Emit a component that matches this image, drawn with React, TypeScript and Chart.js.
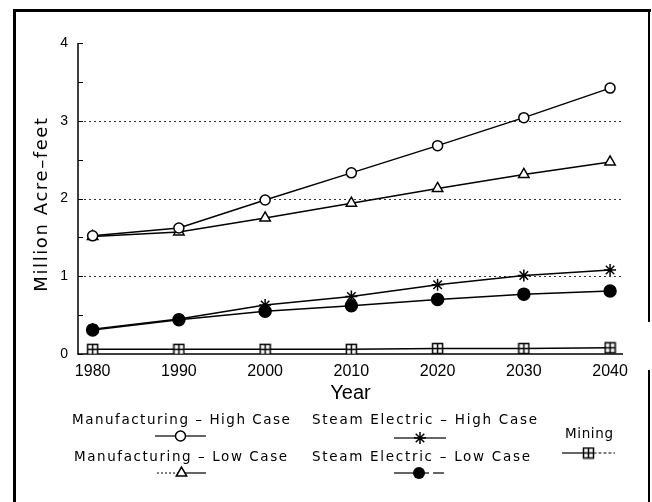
import React, { useEffect, useRef } from 'react';
import { Chart, registerables } from 'chart.js';

Chart.register(...registerables);

const years = [1980, 1990, 2000, 2010, 2020, 2030, 2040];
const mfgHigh = [1.52, 1.62, 1.98, 2.33, 2.68, 3.04, 3.42];
const mfgLow = [1.51, 1.57, 1.75, 1.94, 2.13, 2.31, 2.47];
const steamHigh = [0.32, 0.45, 0.63, 0.74, 0.89, 1.01, 1.08];
const steamLow = [0.31, 0.44, 0.55, 0.62, 0.7, 0.77, 0.81];
const mining = [0.06, 0.06, 0.06, 0.06, 0.07, 0.07, 0.08];
const yTickValues = [0, 0.5, 1, 1.5, 2, 2.5, 3, 3.5, 4];
const gridValues = [1, 2, 3];
const xTitle = 'Year';
const yTitle = 'Million Acre–feet';
const legendLabels = [
  'Manufacturing – High Case',
  'Manufacturing – Low Case',
  'Steam Electric – High Case',
  'Steam Electric – Low Case',
  'Mining',
];

function makeMiningPoint(): HTMLCanvasElement {
  const c = document.createElement('canvas');
  c.width = 13;
  c.height = 13;
  const g = c.getContext('2d')!;
  g.fillStyle = '#fff';
  g.fillRect(1.5, 1.5, 10, 10);
  g.strokeStyle = '#000';
  g.lineWidth = 1.5;
  g.strokeRect(1.5, 1.5, 10, 10);
  g.beginPath();
  g.moveTo(6.5, 1.5);
  g.lineTo(6.5, 11.5);
  g.moveTo(1.5, 6.5);
  g.lineTo(11.5, 6.5);
  g.stroke();
  return c;
}

function drawMarker(ctx: CanvasRenderingContext2D, kind: string, x: number, y: number, img?: HTMLCanvasElement) {
  ctx.save();
  ctx.strokeStyle = '#000';
  ctx.fillStyle = '#fff';
  ctx.lineWidth = 1.5;
  if (kind === 'circle') {
    ctx.beginPath();
    ctx.arc(x, y, 5, 0, Math.PI * 2);
    ctx.fill();
    ctx.stroke();
  } else if (kind === 'triangle') {
    const r = 6;
    ctx.beginPath();
    ctx.moveTo(x, y - r);
    ctx.lineTo(x + r * 0.866, y + r * 0.5);
    ctx.lineTo(x - r * 0.866, y + r * 0.5);
    ctx.closePath();
    ctx.fill();
    ctx.stroke();
  } else if (kind === 'star') {
    const r = 6;
    ctx.beginPath();
    for (let i = 0; i < 4; i++) {
      const a = (i * Math.PI) / 4;
      ctx.moveTo(x - r * Math.cos(a), y - r * Math.sin(a));
      ctx.lineTo(x + r * Math.cos(a), y + r * Math.sin(a));
    }
    ctx.stroke();
  } else if (kind === 'dot') {
    ctx.fillStyle = '#000';
    ctx.beginPath();
    ctx.arc(x, y, 6, 0, Math.PI * 2);
    ctx.fill();
  } else if (kind === 'img' && img) {
    ctx.drawImage(img, x - img.width / 2, y - img.height / 2);
  }
  ctx.restore();
}

export default function App() {
  const ref = useRef<HTMLCanvasElement>(null);

  useEffect(() => {
    const canvas = ref.current!;
    const miningImg = makeMiningPoint();

    const decorPlugin = {
      id: 'decor',
      beforeDatasetsDraw(chart: any) {
        const ctx = chart.ctx as CanvasRenderingContext2D;
        const { left, right, top, bottom } = chart.chartArea;
        const ys = chart.scales.y;
        ctx.save();
        ctx.strokeStyle = '#333';
        ctx.lineWidth = 1;
        ctx.setLineDash([2, 3]);
        gridValues.forEach((v) => {
          const py = Math.round(ys.getPixelForValue(v)) + 0.5;
          ctx.beginPath();
          ctx.moveTo(left + 6, py);
          ctx.lineTo(right, py);
          ctx.stroke();
        });
        ctx.setLineDash([]);
        ctx.strokeStyle = '#000';
        ctx.lineWidth = 1.5;
        ctx.beginPath();
        ctx.moveTo(left, top);
        ctx.lineTo(left, bottom);
        ctx.lineTo(right, bottom);
        ctx.stroke();
        ctx.lineWidth = 1;
        yTickValues.forEach((v) => {
          const py = Math.round(ys.getPixelForValue(v)) + 0.5;
          ctx.beginPath();
          ctx.moveTo(left, py);
          ctx.lineTo(left + 5, py);
          ctx.stroke();
        });
        ctx.restore();
      },
      afterDraw(chart: any) {
        const ctx = chart.ctx as CanvasRenderingContext2D;
        const { left, right, top, bottom } = chart.chartArea;
        ctx.save();
        // frame
        ctx.fillStyle = '#000';
        ctx.fillRect(13, 9, 3, 493);
        ctx.fillRect(13, 9, 638, 3);
        ctx.fillRect(648, 9, 2, 313);
        ctx.fillRect(648, 370, 2, 132);

        ctx.fillStyle = '#000';
        ctx.textBaseline = 'middle';
        ctx.font = '20px "Liberation Sans", Arial, sans-serif';
        ctx.textAlign = 'center';
        ctx.fillText(xTitle, (left + right) / 2, 393);
        ctx.save();
        ctx.translate(42, 204);
        ctx.rotate(-Math.PI / 2);
        ctx.font = '18px "DejaVu Sans", sans-serif';
        (ctx as any).letterSpacing = '1.6px';
        ctx.fillText(yTitle, 0, 0);
        (ctx as any).letterSpacing = '0px';
        ctx.restore();

        const fitText = (t: string, x0: number, x1: number, y: number) => {
          ctx.font = '13.5px "DejaVu Sans", sans-serif';
          (ctx as any).letterSpacing = '0px';
          const w = ctx.measureText(t).width;
          const ls = (x1 - x0 - w) / Math.max(1, t.length - 1);
          (ctx as any).letterSpacing = ls.toFixed(2) + 'px';
          ctx.textAlign = 'left';
          ctx.fillText(t, x0, y);
          (ctx as any).letterSpacing = '0px';
        };
        fitText(legendLabels[0], 72, 290, 420);
        fitText(legendLabels[1], 74, 287, 457);
        fitText(legendLabels[2], 312, 537, 420);
        fitText(legendLabels[3], 312, 530, 457);
        fitText(legendLabels[4], 565, 613, 434);

        const sample = (x0: number, x1: number, y: number, kind: string, dashLeft = false, gapRight = false, dotRight = false) => {
          const mx = (x0 + x1) / 2;
          ctx.strokeStyle = '#000';
          ctx.lineWidth = 1.2;
          if (dashLeft) ctx.setLineDash([2, 2]);
          ctx.beginPath();
          ctx.moveTo(x0, y);
          ctx.lineTo(mx, y);
          ctx.stroke();
          ctx.setLineDash([]);
          if (dotRight) ctx.setLineDash([3, 2]);
          ctx.beginPath();
          ctx.moveTo(mx, y);
          ctx.lineTo(x1, y);
          if (gapRight) {
            ctx.stroke();
            ctx.strokeStyle = '#fff';
            ctx.lineWidth = 3;
            ctx.beginPath();
            ctx.moveTo(mx + 10, y);
            ctx.lineTo(mx + 14, y);
          }
          ctx.stroke();
          ctx.setLineDash([]);
          drawMarker(ctx, kind, mx, y, miningImg);
        };
        sample(155, 206, 436, 'circle');
        sample(157, 206, 473, 'triangle', true);
        sample(394, 446, 438, 'star');
        sample(394, 444, 473, 'dot', false, true);
        sample(562, 615, 453, 'img', false, false, true);
        ctx.restore();
      },
    };

    const common = {
      borderColor: '#000',
      borderWidth: 1.5,
      pointBorderColor: '#000',
      pointBorderWidth: 1.5,
      pointBackgroundColor: '#fff',
      tension: 0,
      fill: false,
    };

    const toXY = (arr: number[]) => arr.map((v, i) => ({ x: years[i], y: v }));

    const chart = new Chart(canvas, {
      type: 'line',
      data: {
        datasets: [
          { ...common, label: legendLabels[0], data: toXY(mfgHigh), pointStyle: 'circle', pointRadius: 5 },
          { ...common, label: legendLabels[1], data: toXY(mfgLow), pointStyle: 'triangle', pointRadius: 6 },
          { ...common, label: legendLabels[2], data: toXY(steamHigh), pointStyle: 'star', pointRadius: 6 },
          { ...common, label: legendLabels[3], data: toXY(steamLow), pointStyle: 'circle', pointRadius: 6, pointBackgroundColor: '#000' },
          { ...common, label: legendLabels[4], data: toXY(mining), pointStyle: miningImg as any, pointRadius: 6 },
        ],
      },
      options: {
        responsive: false,
        animation: false,
        devicePixelRatio: 1,
        layout: { padding: { left: 0, right: 29, top: 43, bottom: 0 } },
        plugins: { legend: { display: false }, tooltip: { enabled: false }, title: { display: false } },
        scales: {
          x: {
            type: 'linear',
            min: 1978.3,
            max: 2041.5,
            afterBuildTicks: (s: any) => {
              s.ticks = years.map((v) => ({ value: v }));
            },
            afterFit: (s: any) => {
              s.height = 148;
            },
            grid: { display: false, drawTicks: false },
            border: { display: false },
            ticks: {
              color: '#000',
              padding: 8,
              maxRotation: 0,
              autoSkip: false,
              font: { family: '"Liberation Sans", Arial, sans-serif', size: 16 },
              callback: (v: any) => String(v),
            },
          },
          y: {
            type: 'linear',
            min: 0,
            max: 4,
            afterBuildTicks: (s: any) => {
              s.ticks = yTickValues.map((v) => ({ value: v }));
            },
            afterFit: (s: any) => {
              s.width = 78;
            },
            grid: { display: false, drawTicks: false },
            border: { display: false },
            ticks: {
              color: '#000',
              padding: 10,
              autoSkip: false,
              font: { family: '"Liberation Sans", Arial, sans-serif', size: 14 },
              callback: (v: any) => (Number.isInteger(v) ? String(v) : ''),
            },
          },
        },
      },
      plugins: [decorPlugin],
    } as any);

    return () => chart.destroy();
  }, []);

  return (
    <div style={{ position: 'absolute', left: 0, top: 0, width: 652, height: 502, background: '#fff' }}>
      <canvas ref={ref} width={652} height={502} />
    </div>
  );
}
